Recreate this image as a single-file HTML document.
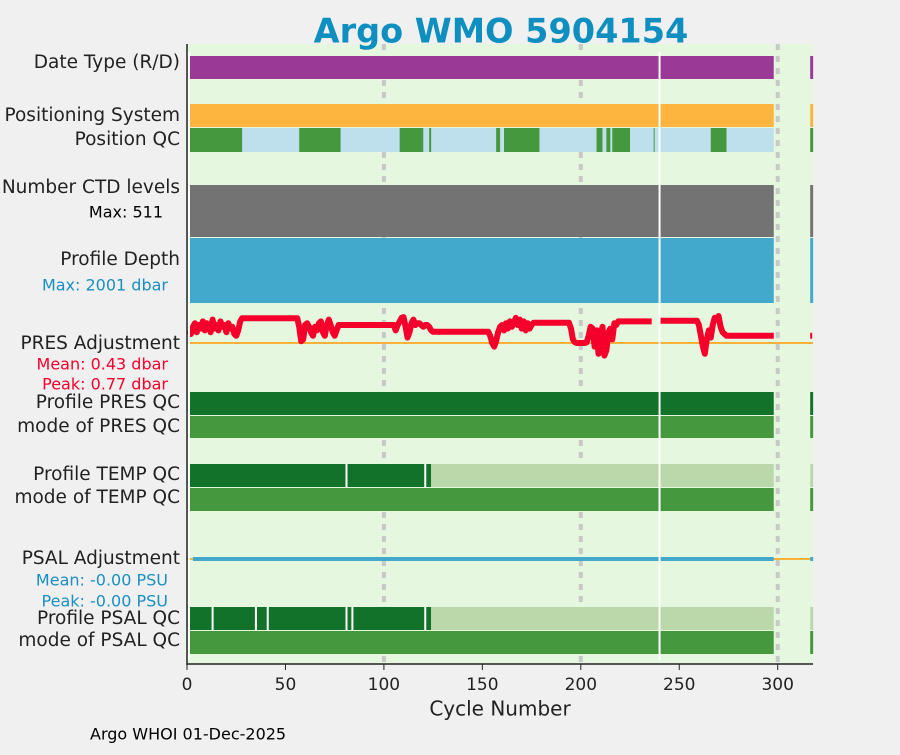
<!DOCTYPE html>
<html><head><meta charset="utf-8"><style>
body{margin:0;background:#f0f0f0;width:900px;height:750px;overflow:hidden;font-family:"Liberation Sans","DejaVu Sans",sans-serif}
svg text{font-family:"DejaVu Sans","Liberation Sans",sans-serif}
</style></head><body>
<svg id="c" width="900" height="750" xmlns="http://www.w3.org/2000/svg"></svg>
<script>
const xTicks=[0,50,100,150,200,250,300];
const posQcGood=[[1,28],[57,78],[108,120],[123,124],[157,159],[161,179],[208,211],[213,215],[216,225],[237,237.5],[266,274],[316.5,318]];
const tempGaps=[81,121];
const psalGaps=[13,35,41,81,84,121];
const presCycles=[1,2,3,4,5,6,7,8,9,10,11,12,13,14,15,16,17,18,19,20,21,22,23,24,25,26,27,28,56,57,58,59,60,61,62,63,64,65,66,67,68,69,70,71,72,73,74,75,76,77,105,106,107,108,109,110,111,112,113,114,115,116,117,118,119,120,121,122,123,124,125,153,154,155,156,157,158,159,160,161,162,163,164,165,166,167,168,169,170,171,172,173,174,175,176,194,195,196,197,198,199,200,201,202,203,204,205,206,207,208,209,210,211,212,213,214,215,216,217,218,219,236,null,240,259,260,261,262,263,264,265,266,267,268,269,270,271,272,273,274,275,298,null,316.5,317.5];
const presVals=[.35,.25,.45,.55,.3,.5,.4,.6,.35,.55,.45,.3,.65,.4,.5,.35,.6,.45,.5,.3,.55,.4,.45,.25,.2,.35,.6,.69,.69,.45,.05,.1,.5,.55,.45,.3,.2,.45,.35,.55,.6,.3,.2,.5,.65,.5,.3,.2,.35,.5,.5,.35,.5,.6,.7,.72,.45,.15,.3,.55,.65,.5,.55,.55,.5,.45,.5,.5,.45,.35,.31,.31,.2,0,-.1,.05,.3,.45,.5,.35,.55,.4,.6,.45,.55,.7,.5,.65,.4,.6,.35,.55,.4,.5,.56,.56,.4,.1,.02,0,0,0,0,0,.02,.2,.45,.4,-.1,.35,-.3,.2,.45,-.35,-.2,.3,.4,.1,.55,.5,.6,.6,null,.62,.62,.5,.2,-.1,-.3,.1,.35,.15,.5,.7,.65,.75,.45,.3,.25,.2,.2,.2,null,.2,.2];
const S=document.getElementById('c');
const NS='http://www.w3.org/2000/svg';
const X0=187,X1=813,PX=1.969;
const x=c=>X0+c*PX;
function el(t,a,n,p){const e=document.createElementNS(NS,t);for(const k in a)e.setAttribute(k,a[k]);(p||S).appendChild(e);return e;}
function txt(s,xx,y,sz,col,anc,n,w){const t=el('text',{x:xx,y:y,'font-size':sz,fill:col,'text-anchor':anc||'end','dominant-baseline':'middle'},n);if(w)t.setAttribute('font-weight',w);t.textContent=s;return t;}
el('rect',{x:X0,y:44,width:X1-X0,height:620,fill:'#e5f8df'},'plot-background');
[100,200,300].forEach(v=>el('line',{x1:x(v),x2:x(v),y1:44,y2:664,stroke:'#c8c8c8','stroke-width':4,'stroke-dasharray':'6,6'},'gridline-'+v));
function bar(c0,c1,y0,y1,col,n){el('rect',{x:x(c0),y:y0,width:(c1-c0)*PX,height:y1-y0,fill:col},n);}
function fullRow(y0,y1,col,n){bar(0.5,298,y0,y1,col,n);bar(316.5,318,y0,y1,col,n+'-end');}
fullRow(56,79,'#9b3a96','date-type-bar');
fullRow(104,127,'#fdb53f','positioning-system-bar');
bar(0.5,298,128,152,'#bee0ec','position-qc-bar');
posQcGood.forEach(s=>bar(s[0],s[1],128,152,'#46983f','position-qc-good'));
fullRow(185,237,'#737373','ctd-levels-bar');
fullRow(238,303,'#42a8cc','profile-depth-bar');
fullRow(392,415,'#137229','profile-pres-qc-bar');
fullRow(416,438,'#46983f','mode-pres-qc-bar');
bar(0.5,124,464,487,'#137229','profile-temp-qc-bar');bar(124,298,464,487,'#bad8a9','profile-temp-qc-bar-light');bar(316.5,318,464,487,'#bad8a9','profile-temp-qc-end');
fullRow(488,511,'#46983f','mode-temp-qc-bar');
bar(0.5,124,607,630,'#137229','profile-psal-qc-bar');bar(124,298,607,630,'#bad8a9','profile-psal-qc-bar-light');bar(316.5,318,607,630,'#bad8a9','profile-psal-qc-end');
fullRow(631,654,'#46983f','mode-psal-qc-bar');
tempGaps.forEach(g=>el('line',{x1:x(g),x2:x(g),y1:464,y2:487,stroke:'#fff','stroke-width':2},'temp-qc-gap'));
psalGaps.forEach(g=>el('line',{x1:x(g),x2:x(g),y1:607,y2:630,stroke:'#fff','stroke-width':2},'psal-qc-gap'));
const YP=343,K=36;
el('line',{x1:X0,x2:X1,y1:YP,y2:YP,stroke:'#fbb03b','stroke-width':2},'pres-zero-line');
let d='',pen=false;
presCycles.forEach((c,i)=>{if(c===null||presVals[i]===null){pen=false;return;}d+=(pen?'L':'M')+x(c).toFixed(1)+','+(YP-presVals[i]*K).toFixed(1);pen=true;});
el('path',{d:d,fill:'none',stroke:'#f5002b','stroke-width':6,'stroke-linejoin':'round'},'pres-adjustment-line');
el('line',{x1:X0,x2:X1,y1:559,y2:559,stroke:'#fbb03b','stroke-width':2},'psal-zero-line');
bar(3,239.5,557,561,'#42a8cc','psal-adjustment-line');bar(240.5,298,557,561,'#42a8cc','psal-adjustment-line-2');bar(316.5,318,557,561,'#42a8cc','psal-adjustment-end');
[1,240].forEach(g=>el('line',{x1:x(g),x2:x(g),y1:52,y2:660,stroke:'#fff','stroke-width':2},'cycle-gap-'+g));
el('line',{x1:X0,x2:X0,y1:44,y2:665,stroke:'#222','stroke-width':1.5},'y-axis-line');
el('line',{x1:X0,x2:X1,y1:664,y2:664,stroke:'#222','stroke-width':1.5},'x-axis-line');
xTicks.forEach(v=>{el('line',{x1:x(v),x2:x(v),y1:664,y2:670,stroke:'#222'},'x-tick');txt(String(v),x(v),685,17,'#222','middle','x-tick-label');});
txt('Cycle Number',500,710,20,'#222','middle','x-axis-title');
txt('Argo WMO 5904154',501,33,33.5,'#0f8fc0','middle','chart-title','bold');
txt('Argo WHOI 01-Dec-2025',90,735,16,'#000','start','footer-credit');
const L=[['Date Type (R/D)',63],['Positioning System',116],['Position QC',140],['Number CTD levels',188],['Profile Depth',260],['PRES Adjustment',344],['Profile PRES QC',403],['mode of PRES QC',427],['Profile TEMP QC',475],['mode of TEMP QC',498],['PSAL Adjustment',559],['Profile PSAL QC',619],['mode of PSAL QC',641]];
L.forEach(l=>txt(l[0],180,l[1],18.5,'#222','end','row-label'));
txt('Max: 511',163,213,16,'#000','end','ctd-max-label');
txt('Max: 2001 dbar',168,286,16,'#1a8fc1','end','depth-max-label');
txt('Mean: 0.43 dbar',168,365,16,'#f5002b','end','pres-mean-label');
txt('Peak: 0.77 dbar',168,385,16,'#f5002b','end','pres-peak-label');
txt('Mean: -0.00 PSU',168,581,16,'#1a8fc1','end','psal-mean-label');
txt('Peak: -0.00 PSU',168,602,16,'#1a8fc1','end','psal-peak-label');
</script>
</body></html>
